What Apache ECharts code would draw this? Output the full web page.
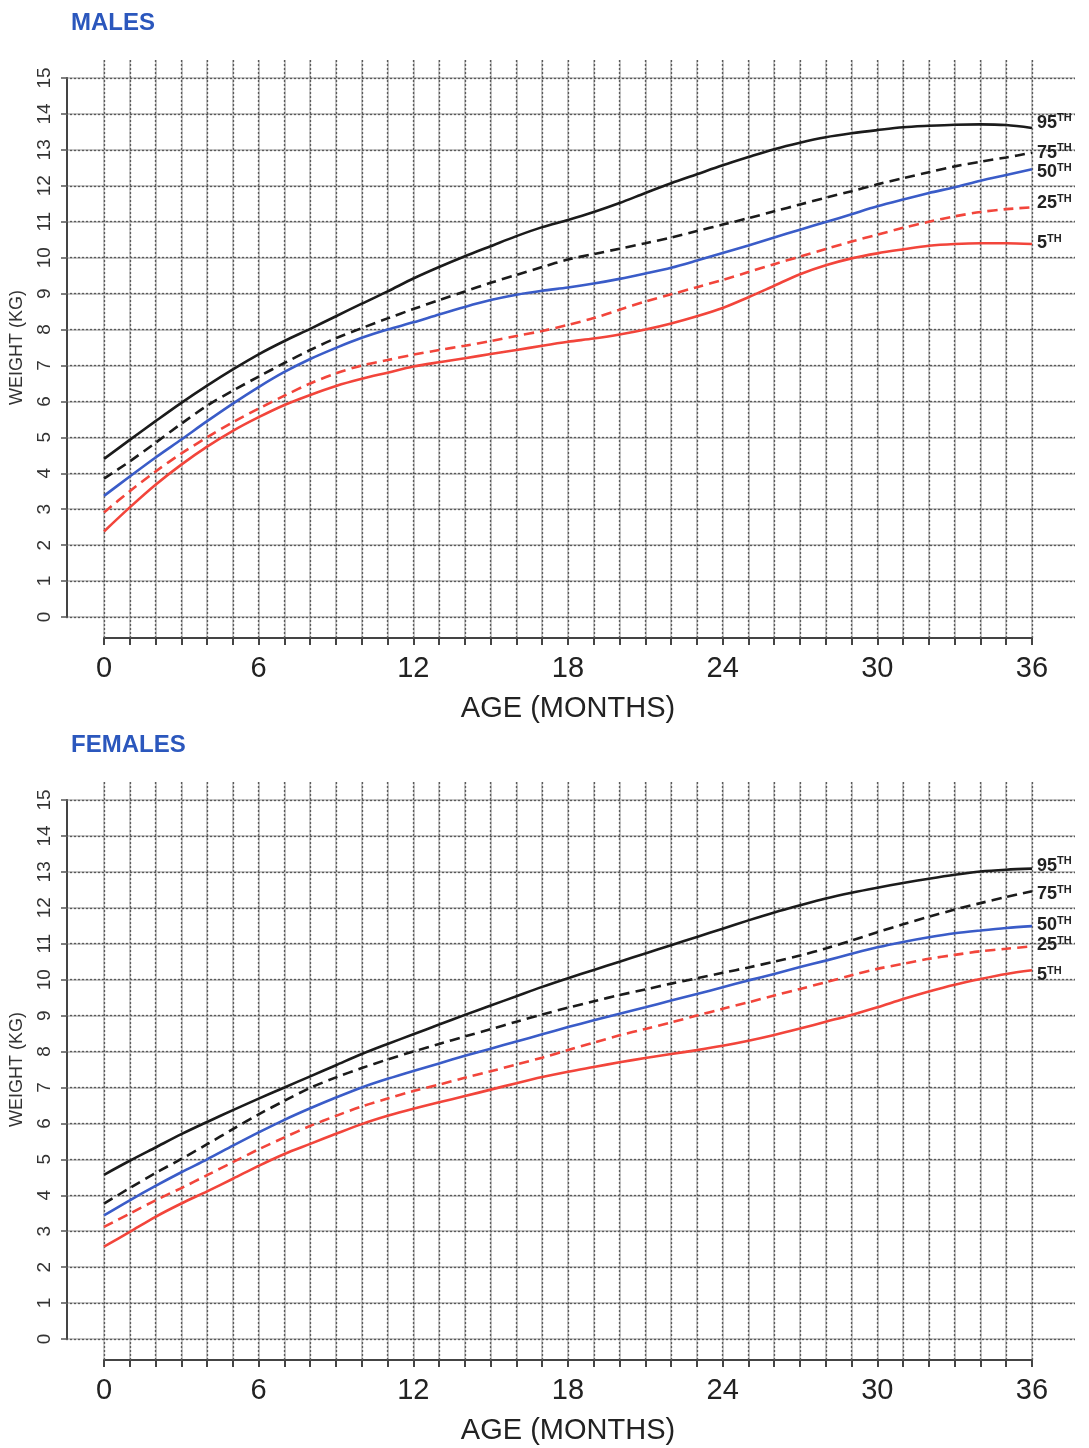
<!DOCTYPE html>
<html>
<head>
<meta charset="utf-8">
<script src="https://cdn.jsdelivr.net/npm/echarts@6/dist/echarts.min.js"></script>
<style>
  html, body { margin: 0; padding: 0; background: #fff; }
  #chart { width: 1089px; height: 1448px; }
</style>
</head>
<body>
<div id="chart"></div>
<script>
// Weight-for-age percentile curves, birth to 36 months
const months = [0,1,2,3,4,5,6,7,8,9,10,11,12,13,14,15,16,17,18,19,20,21,22,23,24,25,26,27,28,29,30,31,32,33,34,35,36];
const monthTicks = [0, 6, 12, 18, 24, 30, 36];
const weightTicks = [0,1,2,3,4,5,6,7,8,9,10,11,12,13,14,15];
const percentiles = ['95', '75', '50', '25', '5'];

// Males (kg)
const male95 = [4.4,4.93,5.45,5.96,6.44,6.89,7.31,7.68,8.02,8.37,8.72,9.06,9.42,9.74,10.04,10.32,10.6,10.85,11.05,11.27,11.52,11.8,12.07,12.32,12.57,12.8,13.02,13.2,13.35,13.46,13.55,13.63,13.67,13.7,13.71,13.69,13.61];
const male75 = [3.85,4.33,4.85,5.38,5.88,6.3,6.69,7.07,7.43,7.76,8.04,8.31,8.57,8.82,9.06,9.3,9.52,9.74,9.95,10.1,10.25,10.4,10.56,10.74,10.92,11.1,11.29,11.48,11.67,11.85,12.04,12.21,12.38,12.54,12.67,12.79,12.92];
const male50 = [3.37,3.91,4.44,4.94,5.45,5.94,6.4,6.82,7.18,7.49,7.77,8.0,8.2,8.42,8.63,8.82,8.97,9.08,9.17,9.28,9.41,9.56,9.72,9.92,10.13,10.34,10.56,10.78,10.99,11.21,11.43,11.62,11.8,11.96,12.14,12.3,12.46];
const male25 = [2.91,3.5,4.05,4.55,5.0,5.42,5.8,6.16,6.5,6.78,7.0,7.15,7.3,7.43,7.55,7.68,7.82,7.96,8.13,8.32,8.55,8.78,8.98,9.18,9.38,9.6,9.82,10.03,10.24,10.45,10.64,10.83,11.0,11.15,11.27,11.35,11.4];
const male5 = [2.38,3.05,3.68,4.24,4.74,5.18,5.56,5.9,6.18,6.43,6.63,6.8,6.97,7.09,7.2,7.32,7.43,7.55,7.66,7.75,7.86,8.0,8.17,8.37,8.6,8.9,9.22,9.54,9.79,9.98,10.12,10.23,10.33,10.38,10.4,10.4,10.38];

// Females (kg)
const female95 = [4.57,4.96,5.33,5.7,6.04,6.37,6.69,7.0,7.31,7.62,7.93,8.21,8.48,8.75,9.02,9.28,9.54,9.8,10.04,10.27,10.5,10.73,10.96,11.19,11.42,11.65,11.87,12.07,12.26,12.42,12.56,12.69,12.81,12.92,13.01,13.06,13.09];
const female75 = [3.77,4.2,4.62,5.01,5.42,5.84,6.25,6.63,6.99,7.28,7.54,7.78,8.0,8.21,8.42,8.62,8.83,9.03,9.22,9.4,9.57,9.73,9.89,10.04,10.19,10.34,10.5,10.67,10.87,11.09,11.32,11.54,11.75,11.95,12.13,12.3,12.46];
const female50 = [3.44,3.86,4.26,4.64,5.0,5.38,5.75,6.1,6.42,6.72,7.0,7.24,7.46,7.67,7.88,8.08,8.28,8.48,8.68,8.87,9.05,9.23,9.42,9.6,9.79,9.98,10.16,10.35,10.53,10.72,10.9,11.05,11.18,11.29,11.37,11.44,11.49];
const female25 = [3.12,3.49,3.86,4.2,4.56,4.92,5.28,5.61,5.93,6.21,6.47,6.69,6.9,7.08,7.27,7.45,7.64,7.83,8.04,8.25,8.45,8.63,8.81,9.0,9.19,9.37,9.56,9.74,9.93,10.12,10.3,10.44,10.58,10.69,10.79,10.86,10.93];
const female5 = [2.57,2.98,3.4,3.77,4.11,4.46,4.82,5.15,5.43,5.71,5.98,6.21,6.41,6.59,6.76,6.94,7.12,7.29,7.44,7.57,7.7,7.82,7.93,8.04,8.16,8.3,8.46,8.64,8.83,9.02,9.23,9.46,9.67,9.86,10.02,10.16,10.26];

const panels = [
  { title: 'MALES',   top: 0,   curves: [male95, male75, male50, male25, male5],
    labelShift: [-5, 0, 3, -4, -1] },
  { title: 'FEMALES', top: 722, curves: [female95, female75, female50, female25, female5],
    labelShift: [-3, 3, -1, -1, 5] }
];

// line look per percentile: 95 black, 75 black dashed, 50 blue, 25 red dashed, 5 red
const curveStyle = [
  { color: '#1b1b1b', type: 'solid' },
  { color: '#1b1b1b', type: [10, 6] },
  { color: '#3a5cc8', type: 'solid' },
  { color: '#f2453b', type: [10, 6] },
  { color: '#f2453b', type: 'solid' }
];

const FONT = '"Liberation Sans", Arial, sans-serif';
// graph-paper rules: a light solid rule with a dark dotted rule on top
const RULE_BASE = { show: true, lineStyle: { color: '#c8c8c8', width: 2, type: 'solid' } };
const RULE_DOTS = { show: true, lineStyle: { color: '#5a5a5a', width: 1.3, type: [2, 2] } };

const grid = [], xAxis = [], yAxis = [], series = [], title = [];

panels.forEach((p, pi) => {
  const dy = p.top;
  const g0 = pi * 5;
  const monthBox = { left: 104, width: 928, top: 60 + dy, height: 578 };
  const weightBox = { left: 66, width: 1009, top: 78 + dy, height: 539 };

  title.push({
    text: p.title, left: 66, top: 6 + dy,
    textStyle: { color: '#2b57bd', fontSize: 24, fontWeight: 'bold', fontFamily: FONT }
  });

  // month grid: vertical rules, age axis below the weight scale
  grid.push(Object.assign({}, monthBox));
  xAxis.push({
    gridIndex: g0, type: 'value', min: 0, max: 36, interval: 1, z: 0,
    axisLine: { show: true, lineStyle: { color: '#444', width: 2 } },
    axisTick: { show: true, length: 7, lineStyle: { color: '#444', width: 2 } },
    axisLabel: {
      margin: 16, fontSize: 29, color: '#222', fontFamily: FONT,
      formatter: v => (monthTicks.indexOf(v) >= 0 ? String(v) : '')
    },
    splitLine: RULE_BASE,
    name: 'AGE (MONTHS)', nameLocation: 'middle', nameGap: 56,
    nameTextStyle: { fontSize: 29, color: '#222', fontFamily: FONT }
  });
  yAxis.push({ gridIndex: g0, type: 'value', min: 0, max: 1, show: false });

  // weight grid: horizontal rules, weight axis on the left
  grid.push(Object.assign({}, weightBox));
  xAxis.push({ gridIndex: g0 + 1, type: 'value', min: 0, max: 1, show: false });
  yAxis.push({
    gridIndex: g0 + 1, type: 'value', min: weightTicks[0], max: weightTicks[weightTicks.length - 1], interval: 1, z: 0,
    axisLine: { show: true, lineStyle: { color: '#444', width: 2 } },
    axisTick: { show: true, length: 6, lineStyle: { color: '#555', width: 1.5 } },
    axisLabel: { rotate: 90, margin: 13, fontSize: 19, color: '#333', fontFamily: FONT },
    splitLine: RULE_BASE,
    name: 'WEIGHT (KG)', nameLocation: 'middle', nameRotate: 90, nameGap: 41,
    nameTextStyle: { fontSize: 18, color: '#333', fontFamily: FONT }
  });

  // dotted layer of both rule sets
  grid.push(Object.assign({}, monthBox));
  xAxis.push({
    gridIndex: g0 + 2, type: 'value', min: 0, max: 36, interval: 1, z: 1,
    axisLine: { show: false }, axisTick: { show: false }, axisLabel: { show: false },
    splitLine: RULE_DOTS
  });
  yAxis.push({ gridIndex: g0 + 2, type: 'value', min: 0, max: 1, show: false });

  grid.push(Object.assign({}, weightBox));
  xAxis.push({ gridIndex: g0 + 3, type: 'value', min: 0, max: 1, show: false });
  yAxis.push({
    gridIndex: g0 + 3, type: 'value', min: 0, max: 15, interval: 1, z: 1,
    axisLine: { show: false }, axisTick: { show: false }, axisLabel: { show: false },
    splitLine: RULE_DOTS
  });

  // data grid for the curves
  grid.push({ left: 104, width: 928, top: 78 + dy, height: 539 });
  xAxis.push({ gridIndex: g0 + 4, type: 'value', min: 0, max: 36, show: false });
  yAxis.push({ gridIndex: g0 + 4, type: 'value', min: 0, max: 15, show: false });

  p.curves.forEach((vals, ci) => {
    const st = curveStyle[ci];
    series.push({
      type: 'line',
      name: p.title + ' ' + percentiles[ci],
      xAxisIndex: g0 + 4, yAxisIndex: g0 + 4,
      data: months.map((m, i) => [m, vals[i]]),
      smooth: 0.3, showSymbol: false, silent: true, z: 3,
      lineStyle: { color: st.color, width: 2.6, type: st.type },
      endLabel: {
        show: true, distance: 5, offset: [0, p.labelShift[ci]],
        formatter: '{n|' + percentiles[ci] + '}{s|TH}',
        rich: {
          n: { fontSize: 18, fontWeight: 'bold', color: '#222', fontFamily: FONT, lineHeight: 20 },
          s: { fontSize: 11, fontWeight: 'bold', color: '#222', fontFamily: FONT, lineHeight: 20, padding: [0, 0, 9, 0] }
        }
      }
    });
  });
});

const chart = echarts.init(document.getElementById('chart'), null, { renderer: 'canvas' });
chart.setOption({
  backgroundColor: '#ffffff',
  animation: false,
  title, grid, xAxis, yAxis, series
});
</script>
</body>
</html>
